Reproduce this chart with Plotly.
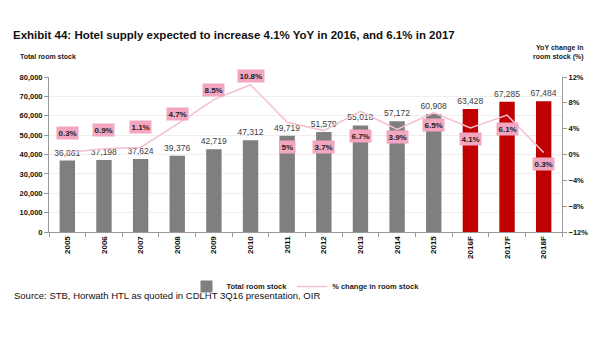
import plotly.graph_objects as go

years = ["2005", "2006", "2007", "2008", "2009", "2010", "2011", "2012", "2013",
         "2014", "2015", "2016F", "2017F", "2018F"]
room_stock = [36861, 37198, 37624, 39376, 42719, 47312, 49719, 51579, 55018,
              57172, 60908, 63428, 67285, 67484]
pct_change = [0.3, 0.9, 1.1, 4.7, 8.5, 10.8, 5, 3.7, 6.7, 3.9, 6.5, 4.1, 6.1, 0.3]
pct_labels = ["0.3%", "0.9%", "1.1%", "4.7%", "8.5%", "10.8%", "5%", "3.7%", "6.7%",
              "3.9%", "6.5%", "4.1%", "6.1%", "0.3%"]
label_shift = [20, 19, 20, 10, 10, 9, -25, -16, -25, -8, -12, -11, -14, -11]

bar_colors = ["#7f7f7f"] * 11 + ["#c00000"] * 3
FONT = "Liberation Sans"

fig = go.Figure()
fig.add_trace(go.Bar(
    x=years, y=room_stock, name="Total room stock",
    marker=dict(color=bar_colors, line=dict(width=0)),
    width=0.42,
    text=[f"{v:,}" for v in room_stock], textposition="outside",
    constraintext="none",
    textfont=dict(size=8.5, color="#404040", family=FONT),
    cliponaxis=False,
))
fig.add_trace(go.Scatter(
    x=years, y=pct_change, name="% change in room stock", yaxis="y2",
    mode="lines", line=dict(color="#f6bfd0", width=1.5),
))

for i, (y, t, s) in enumerate(zip(pct_change, pct_labels, label_shift)):
    fig.add_annotation(x=i, y=y, xref="x", yref="y2", text=f"<b>{t}</b>",
                       showarrow=False, yshift=s, bgcolor="#f4a6c0",
                       font=dict(size=8, color="#222", family=FONT),
                       borderpad=1.5)

fig.add_annotation(xref="paper", yref="paper", x=-0.06, y=1.135, xanchor="left",
                   yanchor="middle", showarrow=False,
                   text="<b>Total room stock</b>",
                   font=dict(size=7, color="#222", family=FONT))
fig.add_annotation(xref="paper", yref="paper", x=1.047, y=1.155, xanchor="right",
                   yanchor="middle", showarrow=False, align="right",
                   text="<b>YoY change in<br>room stock (%)</b>",
                   font=dict(size=7, color="#222", family=FONT))
fig.add_annotation(xref="paper", yref="paper", x=-0.072, y=-0.41, xanchor="left",
                   yanchor="middle", showarrow=False,
                   text="Source: STB, Horwath HTL as quoted in CDLHT 3Q16 presentation, OIR",
                   font=dict(size=9.5, color="#111", family=FONT))

fig.update_layout(
    width=592, height=352,
    margin=dict(l=41, r=38, t=69, b=128),
    paper_bgcolor="white", plot_bgcolor="white",
    title=dict(text="<b>Exhibit 44: Hotel supply expected to increase 4.1% YoY in 2016, and 6.1% in 2017</b>",
               x=0.0085, xanchor="left", y=0.923, yanchor="middle",
               font=dict(size=11.5, color="#111", family=FONT)),
    showlegend=True,
    legend=dict(orientation="h", x=0.5, xanchor="center", y=-0.352, yanchor="middle",
                font=dict(size=7.5, color="#222", family=FONT, weight="bold"),
                bgcolor="rgba(0,0,0,0)"),
    xaxis=dict(type="category", tickangle=-90, showline=True, linecolor="#999",
               ticks="outside", tickcolor="#999", ticklen=4, tickson="boundaries",
               tickfont=dict(size=8, color="#111", family=FONT, weight="bold"),
               showgrid=False, automargin=False),
    yaxis=dict(range=[0, 80000], dtick=10000, tickformat=",d", showline=True,
               linecolor="#999", ticks="outside", tickcolor="#999", ticklen=4,
               gridcolor="#eeeeee", zeroline=False, automargin=False,
               tickfont=dict(size=7.5, color="#111", family=FONT, weight="bold")),
    yaxis2=dict(range=[-12, 12], dtick=4, ticksuffix="%", overlaying="y", side="right",
                showline=True, linecolor="#999", ticks="outside", tickcolor="#999",
                ticklen=4, showgrid=False, zeroline=False, automargin=False,
                tickfont=dict(size=7.5, color="#111", family=FONT, weight="bold")),
)
fig.write_html("out.html")
